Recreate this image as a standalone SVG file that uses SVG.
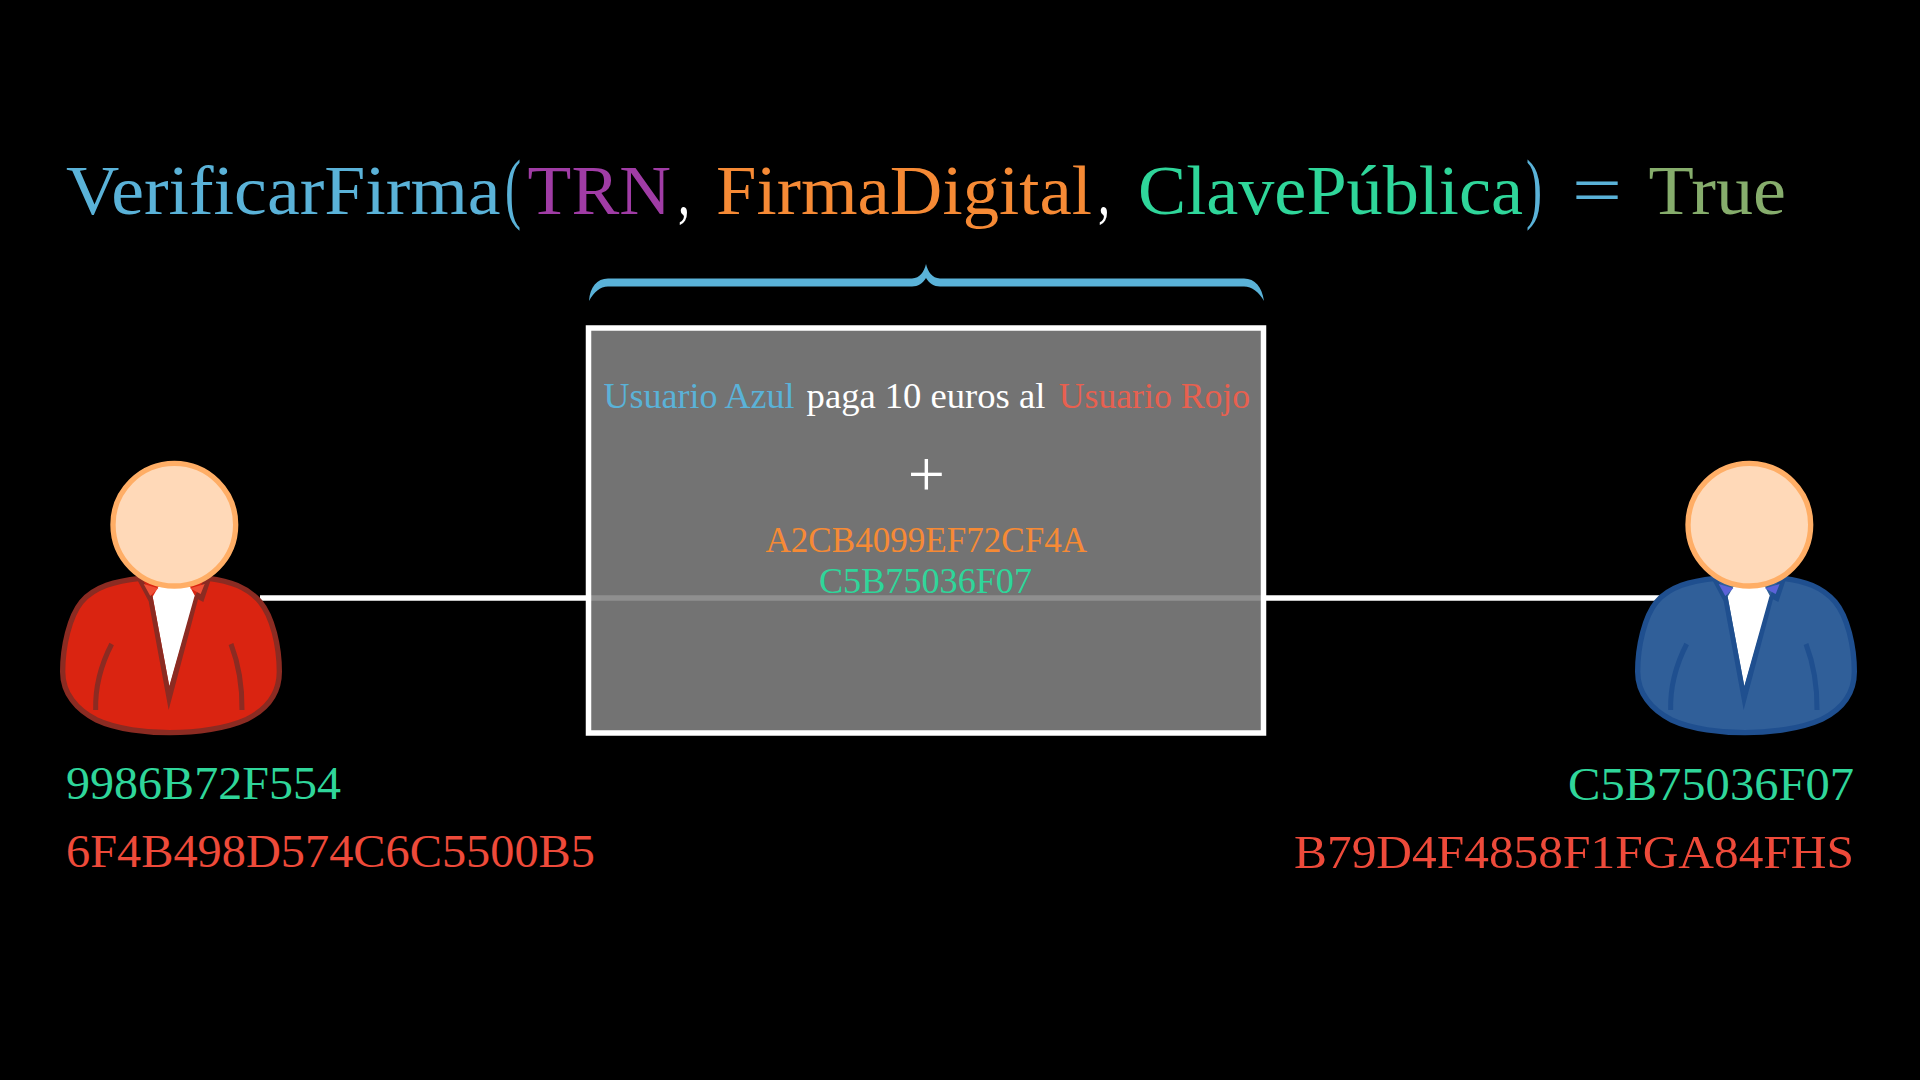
<svg xmlns="http://www.w3.org/2000/svg" xmlns:xlink="http://www.w3.org/1999/xlink" width="1920" height="1080" viewBox="0 0 1920 1080">
<style>
text{font-family:"Liberation Serif","Times New Roman",serif}
.t{font-size:69.5px}
.b{font-size:35.5px}
.k{font-size:47px}
.blue{fill:#5ab2d8}.purple{fill:#a03ca5}.orange{fill:#f68a35}.green{fill:#2fd69a}.olive{fill:#86ad6c}.red{fill:#ee4a3a}.white{fill:#fff}.rojo{fill:#e8604f}
.person{--suit:#da2411;--line:#8b2b22;--collar:#ef4f36}
.person.azul{--suit:#305f99;--line:#1f4f8f;--collar:#5b63d8}
.suit{fill:var(--suit);stroke:var(--line);stroke-width:16;stroke-linejoin:round}
.lapel{fill:var(--line)}
.collar{fill:var(--collar)}
.arm{fill:none;stroke:var(--line);stroke-width:15}
.shirt{fill:#fff}
.head{fill:#ffd9b8;stroke:#ffae66;stroke-width:16}
.wire{stroke:#fff;stroke-width:5.5;fill:none}
</style>
<defs>
<g id="figure">
<path class="suit" d="M300 415C225 423 165 440 125 485C88 530 68 620 68 695C68 760 110 810 170 840C230 868 320 878 390 878C470 878 560 865 620 838C680 808 718 760 718 695C718 620 698 530 660 485C620 440 570 423 505 415Z"/>
<path class="shirt" d="M338 470L355 440L450 440L466 470L388 740Z"/>
<path class="lapel" d="M292 420L306 415L338 470L388 738L463 470L495 415L512 420L490 486L474 478L386 810L326 484Z"/>
<path class="collar" d="M311 432L355 445L331 468Z"/>
<path class="collar" d="M494 432L450 445L482 462Z"/>
<path class="arm" d="M215 612C185 670 165 730 167 810"/>
<path class="arm" d="M573 612C595 670 607 730 606 810"/>
<circle class="head" cx="403" cy="254" r="184"/>
</g>
</defs>
<rect width="1920" height="1080" fill="#000"/>
<g id="connectors">
<line class="wire" x1="260" y1="598" x2="1680" y2="598"/>
</g>
<g id="formula">
<text class="t blue" x="66" y="214" textLength="434.6" lengthAdjust="spacingAndGlyphs">VerificarFirma</text>
<text class="blue" x="505" y="214" font-size="78" textLength="16" lengthAdjust="spacingAndGlyphs">(</text>
<text class="t purple" x="527.6" y="214" textLength="143.4" lengthAdjust="spacingAndGlyphs">TRN</text>
<text class="t white" x="678" y="214" textLength="12" lengthAdjust="spacingAndGlyphs">,</text>
<text class="t orange" x="716" y="214" textLength="376" lengthAdjust="spacingAndGlyphs">FirmaDigital</text>
<text class="t white" x="1098" y="214" textLength="12" lengthAdjust="spacingAndGlyphs">,</text>
<text class="t green" x="1138" y="214" textLength="385" lengthAdjust="spacingAndGlyphs">ClavePública</text>
<text class="blue" x="1526" y="214" font-size="78" textLength="16" lengthAdjust="spacingAndGlyphs">)</text>
<text class="t blue" x="1572" y="214" textLength="50" lengthAdjust="spacingAndGlyphs">=</text>
<text class="t olive" x="1648.6" y="214" textLength="137.4" lengthAdjust="spacingAndGlyphs">True</text>
</g>
<path id="brace" class="blue" d="M589 301C590 287 597 278.5 608 278.5L912 278.5C920 278 924 272 926 264C928 272 932 278 940 278.5L1244 278.5C1255 278.5 1262 287 1264 301C1259 292 1252 286.5 1244 286.5L940 286.5C934 286.5 929 283 926 278C923 283 918 286.5 912 286.5L608 286.5C600 286.5 594 292 589 301Z"/>
<g id="transaction">
<rect x="588.5" y="328" width="675" height="405" fill="#818181" fill-opacity=".89" stroke="#fff" stroke-width="5.5"/>
<text class="b blue" x="603.5" y="407.5" textLength="191" lengthAdjust="spacingAndGlyphs">Usuario Azul</text>
<text class="b white" x="806.6" y="407.5" textLength="238.8" lengthAdjust="spacingAndGlyphs">paga 10 euros al</text>
<text class="b rojo" x="1058.8" y="407.5" textLength="191.2" lengthAdjust="spacingAndGlyphs">Usuario Rojo</text>
<text class="white" x="926.3" y="495.5" font-size="66" text-anchor="middle">+</text>
<text class="b orange" x="765.5" y="551.7" textLength="321.5" lengthAdjust="spacingAndGlyphs">A2CB4099EF72CF4A</text>
<text class="b green" x="819" y="593.3" textLength="213" lengthAdjust="spacingAndGlyphs">C5B75036F07</text>
</g>
<g id="usuario-rojo" class="person">
<use xlink:href="#figure" href="#figure" transform="translate(40 440) scale(.33333)"/>
<text class="k green" x="66" y="799.3" textLength="275" lengthAdjust="spacingAndGlyphs">9986B72F554</text>
<text class="k red" x="66" y="867" textLength="529" lengthAdjust="spacingAndGlyphs">6F4B498D574C6C5500B5</text>
</g>
<g id="usuario-azul" class="person azul">
<use xlink:href="#figure" href="#figure" transform="translate(1615 440) scale(.33333)"/>
<text class="k green" x="1568" y="800" textLength="286" lengthAdjust="spacingAndGlyphs">C5B75036F07</text>
<text class="k red" x="1294" y="867.7" textLength="560" lengthAdjust="spacingAndGlyphs">B79D4F4858F1FGA84FHS</text>
</g>
</svg>
